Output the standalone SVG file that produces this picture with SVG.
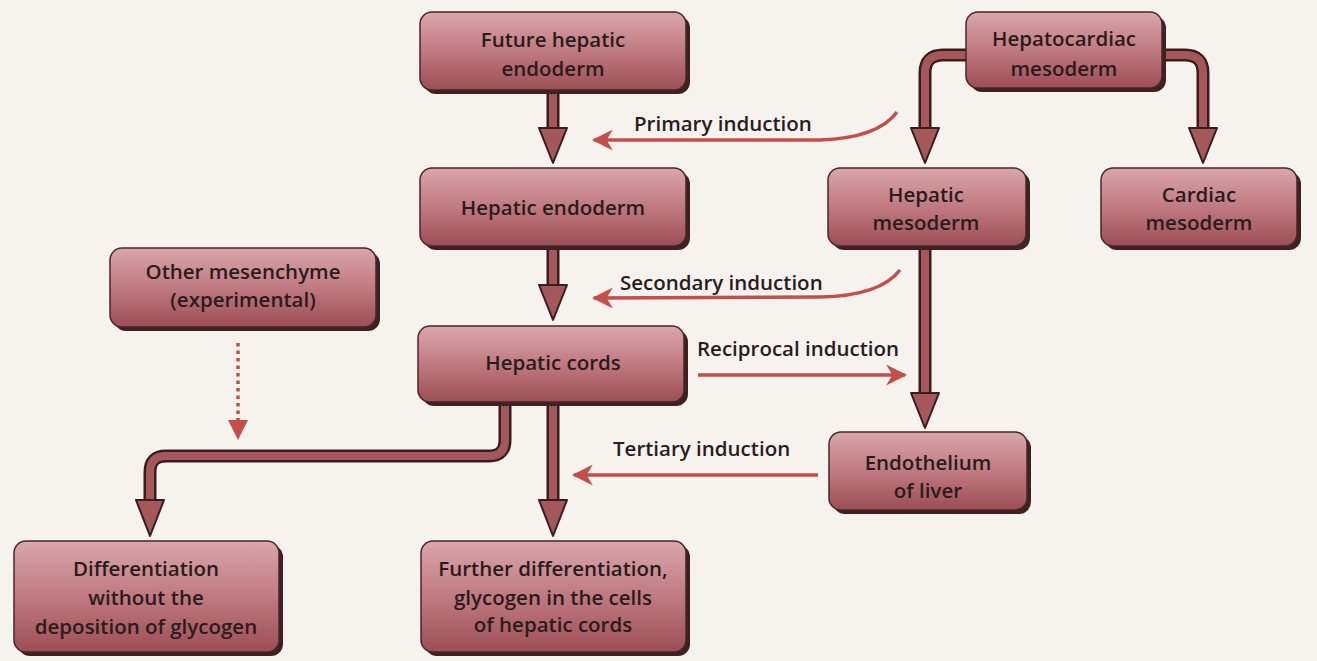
<svg xmlns="http://www.w3.org/2000/svg" width="1317" height="661" viewBox="0 0 1317 661">
<defs>
<linearGradient id="g" x1="0" y1="0" x2="0" y2="1">
<stop offset="0" stop-color="#d9a7ab"/>
<stop offset="0.5" stop-color="#c07a81"/>
<stop offset="1" stop-color="#9c4d55"/>
</linearGradient>
<marker id="ah" viewBox="0 0 10 10" refX="9" refY="5" markerWidth="6" markerHeight="6" markerUnits="strokeWidth" orient="auto">
<path d="M0,0 L10,5 L0,10 L3,5 Z" fill="#c24f4a"/>
</marker>
</defs>
<style>
.sh{fill:#3e2222}
.bx{fill:url(#g);stroke:#4a2626;stroke-width:1.5}
.t{font-family:"Open Sans","Lato",sans-serif;font-size:20.5px;font-weight:600;fill:#2a1c1c;text-anchor:middle}
.lb{font-family:"Open Sans","Lato",sans-serif;font-size:20.5px;font-weight:600;fill:#2a1c1c}
.so{fill:none;stroke:#3a1c1c;stroke-width:13}
.si{fill:none;stroke:#a5585c;stroke-width:8}
.hd{fill:#a5585c;stroke:#3a1c1c;stroke-width:2;stroke-linejoin:round}
.th{fill:none;stroke:#c24f4a;stroke-width:3.5}
</style>
<rect width="1317" height="661" fill="#f6f2ee"/>
<g id="connectors">
<path class="so" d="M553,90 V132"/><path class="si" d="M553,88 V134"/>
<polygon class="hd" points="539,128 567,128 553,163"/>
<path class="so" d="M553,246 V290"/><path class="si" d="M553,244 V292"/>
<polygon class="hd" points="539,285 567,285 553,320"/>
<path class="so" d="M553,402 V505"/><path class="si" d="M553,400 V507"/>
<polygon class="hd" points="539,500 567,500 553,536"/>
<path class="so" d="M505,402 V440 Q505,456 489,456 H166 Q150,456 150,472 V505"/>
<path class="si" d="M505,400 V440 Q505,456 489,456 H166 Q150,456 150,472 V507"/>
<polygon class="hd" points="136,500 164,500 150,536"/>
<path class="so" d="M968,55 H943 Q925,55 925,73 V132"/>
<path class="si" d="M970,55 H943 Q925,55 925,73 V134"/>
<polygon class="hd" points="911,128 939,128 925,163"/>
<path class="so" d="M1160,55 H1185 Q1203,55 1203,73 V132"/>
<path class="si" d="M1158,55 H1185 Q1203,55 1203,73 V134"/>
<polygon class="hd" points="1189,128 1217,128 1203,163"/>
<path class="so" d="M925,246 V398"/><path class="si" d="M925,244 V400"/>
<polygon class="hd" points="911,393 939,393 925,428"/>
<path class="th" d="M897,112 Q878,138 820,140 L594,140" marker-end="url(#ah)"/>
<path class="th" d="M900,270 Q880,296 820,297 L594,298" marker-end="url(#ah)"/>
<path class="th" d="M698,375 L905,375" marker-end="url(#ah)"/>
<path class="th" d="M818,475 L574,475" marker-end="url(#ah)"/>
<path d="M238,343 V425" fill="none" stroke="#c24f4a" stroke-width="3.5" stroke-dasharray="3.5,4"/>
<polygon points="228,420 248,420 238,440" fill="#c24f4a"/>
</g>
<g id="labels">
<text class="lb" x="634" y="131">Primary induction</text>
<text class="lb" x="620" y="290">Secondary induction</text>
<text class="lb" x="697" y="356">Reciprocal induction</text>
<text class="lb" x="613" y="456">Tertiary induction</text>
</g>
<g id="n-future">
<rect class="sh" x="424" y="16" width="266" height="78" rx="12"/>
<rect class="bx" x="420" y="12" width="266" height="78" rx="12"/>
<text class="t" x="553" y="47">Future hepatic</text>
<text class="t" x="553" y="76">endoderm</text>
</g>
<g id="n-hependo">
<rect class="sh" x="424" y="172" width="266" height="78" rx="12"/>
<rect class="bx" x="420" y="168" width="266" height="78" rx="12"/>
<text class="t" x="553" y="215">Hepatic endoderm</text>
</g>
<g id="n-cords">
<rect class="sh" x="422" y="330" width="266" height="76" rx="12"/>
<rect class="bx" x="418" y="326" width="266" height="76" rx="12"/>
<text class="t" x="553" y="370">Hepatic cords</text>
</g>
<g id="n-other">
<rect class="sh" x="114" y="252" width="266" height="79" rx="12"/>
<rect class="bx" x="110" y="248" width="266" height="79" rx="12"/>
<text class="t" x="243" y="279">Other mesenchyme</text>
<text class="t" x="243" y="307">(experimental)</text>
</g>
<g id="n-diff">
<rect class="sh" x="18" y="545" width="265" height="111" rx="12"/>
<rect class="bx" x="14" y="541" width="265" height="111" rx="12"/>
<text class="t" x="146" y="576">Differentiation</text>
<text class="t" x="146" y="605">without the</text>
<text class="t" x="146" y="634">deposition of glycogen</text>
</g>
<g id="n-further">
<rect class="sh" x="425" y="545" width="265" height="111" rx="12"/>
<rect class="bx" x="421" y="541" width="265" height="111" rx="12"/>
<text class="t" x="553" y="576">Further differentiation,</text>
<text class="t" x="553" y="605">glycogen in the cells</text>
<text class="t" x="553" y="632">of hepatic cords</text>
</g>
<g id="n-hepatocardiac">
<rect class="sh" x="970" y="16" width="196" height="76" rx="12"/>
<rect class="bx" x="966" y="12" width="196" height="76" rx="12"/>
<text class="t" x="1064" y="46">Hepatocardiac</text>
<text class="t" x="1064" y="76">mesoderm</text>
</g>
<g id="n-hepmeso">
<rect class="sh" x="832" y="172" width="198" height="78" rx="12"/>
<rect class="bx" x="828" y="168" width="198" height="78" rx="12"/>
<text class="t" x="926" y="202">Hepatic</text>
<text class="t" x="926" y="230">mesoderm</text>
</g>
<g id="n-cardiac">
<rect class="sh" x="1105" y="172" width="196" height="78" rx="12"/>
<rect class="bx" x="1101" y="168" width="196" height="78" rx="12"/>
<text class="t" x="1199" y="202">Cardiac</text>
<text class="t" x="1199" y="230">mesoderm</text>
</g>
<g id="n-endo">
<rect class="sh" x="833" y="436" width="198" height="78" rx="12"/>
<rect class="bx" x="829" y="432" width="198" height="78" rx="12"/>
<text class="t" x="928" y="470">Endothelium</text>
<text class="t" x="928" y="498">of liver</text>
</g>
</svg>
